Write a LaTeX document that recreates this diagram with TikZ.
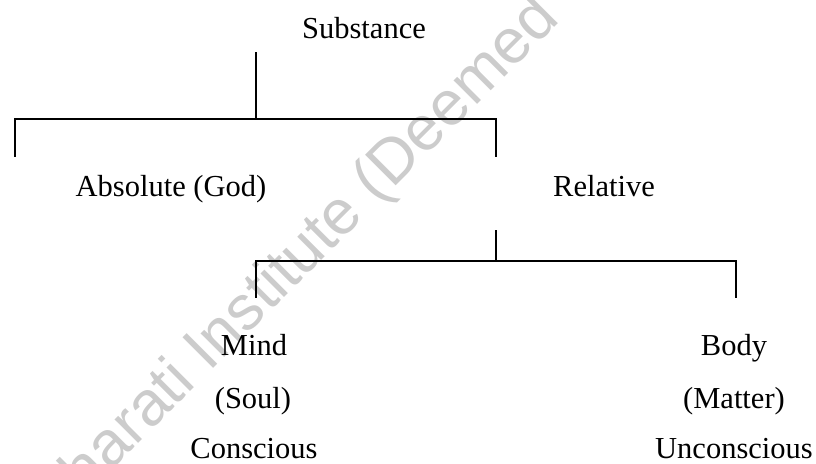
\documentclass[tikz,border=0pt]{standalone}
\usepackage{fontspec}
\setmainfont{Liberation Serif}
\newfontfamily\wmfont{Liberation Sans}
\begin{document}
\begin{tikzpicture}[x=1pt,y=-1pt,
  lbl/.style={anchor=base,inner sep=0pt,font=\fontsize{30.5}{34}\selectfont},
  conn/.style={line width=1.3pt,line cap=rect},
  wm/.style={anchor=base west,inner sep=0pt,text=black!20,font=\wmfont\fontsize{63}{66}\selectfont,rotate=45}]
\useasboundingbox (0,0) rectangle (816,463);
\begin{scope}
\clip (0,0) rectangle (816,463);
\node[wm] (wmark) at (56,526) {Bharati Institute (Deemed};
\end{scope}
% text nodes
\node[lbl] (sub) at (364,38) {Substance};
\node[lbl] (abs) at (171,196) {Absolute (God)};
\node[lbl] (rel) at (604,196) {Relative};
\node[lbl] (mind) at (254,355) {Mind};
\node[lbl] (soul) at (253,408) {(Soul)};
\node[lbl] (consc) at (254,458) {Conscious};
\node[lbl] (body) at (734,355) {Body};
\node[lbl] (matter) at (734,408) {(Matter)};
\node[lbl] (uncon) at (734,458) {Unconscious};
% junction coordinates
\coordinate (s1) at (256,53);
\coordinate (s2) at (256,119);
\coordinate (aL) at (15,119);
\coordinate (aLd) at (15,156);
\coordinate (aR) at (496,119);
\coordinate (aRd) at (496,156);
\coordinate (r1) at (496,231);
\coordinate (r2) at (496,261);
\coordinate (mL) at (256,261);
\coordinate (mLd) at (256,297);
\coordinate (mR) at (736,261);
\coordinate (mRd) at (736,297);
% connectors
\draw[conn] (s1) -- (s2);
\draw[conn] (aLd) -- (aL) -- (aR) -- (aRd);
\draw[conn] (r1) -- (r2);
\draw[conn] (mLd) -- (mL) -- (mR) -- (mRd);
\end{tikzpicture}
\end{document}
